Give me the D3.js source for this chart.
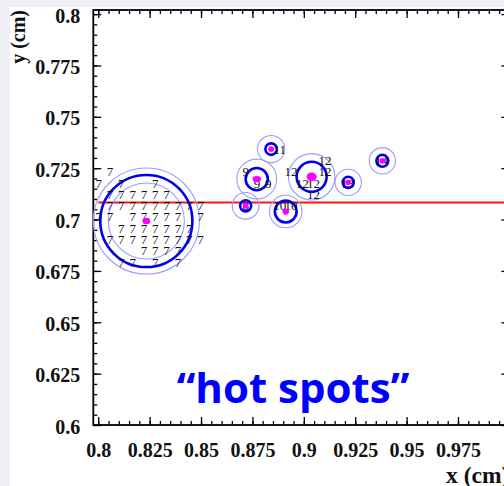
<!DOCTYPE html>
<html><head><meta charset="utf-8">
<script src="https://cdn.jsdelivr.net/npm/d3@7"></script>
<style>
html,body{margin:0;padding:0;background:#eef0f6;overflow:hidden}
svg{display:block}
</style></head><body>
<svg id="chart" width="504" height="486"></svg>
<script>
// ---- data -------------------------------------------------------------
const pitch = 0.0055;                 // sensor pixel pitch (cm)

// axis ticks
const xTickValues = [0.8, 0.825, 0.85, 0.875, 0.9, 0.925, 0.95, 0.975];
const xTickLabels = ["0.8", "0.825", "0.85", "0.875", "0.9", "0.925", "0.95", "0.975"];
const yTickValues = [0.6, 0.625, 0.65, 0.675, 0.7, 0.725, 0.75, 0.775, 0.8];
const yTickLabels = ["0.6", "0.625", "0.65", "0.675", "0.7", "0.725", "0.75", "0.775", "0.8"];

// fired pixels: column, row and cluster number
const hitCols = [
  146,
  145, 147, 150,
  146, 147, 148, 149, 150, 151,
  146, 147, 148, 149, 150, 151, 152, 153, 154,
  145, 146, 148, 149, 150, 151, 152, 154,
  147, 148, 149, 150, 151, 152, 153,
  146, 147, 148, 149, 150, 151, 152, 153, 154,
  149, 150, 151, 152,
  147, 148, 150, 152,
  158,
  158, 159, 160,
  161, 162,
  161,
  162, 163, 164, 164, 165, 165,
  167,
  170
];
const hitRows = [
  131,
  130, 130, 130,
  129, 129, 129, 129, 129, 129,
  128, 128, 128, 128, 128, 128, 128, 128, 128,
  127, 127, 127, 127, 127, 127, 127, 127,
  126, 126, 126, 126, 126, 126, 126,
  125, 125, 125, 125, 125, 125, 125, 125, 125,
  124, 124, 124, 124,
  123, 123, 123, 123,
  128,
  131, 130, 130,
  128, 128,
  133,
  131, 130, 130, 129, 132, 131,
  130,
  132
];
const hitIds = [
  7,
  7, 7, 7,
  7, 7, 7, 7, 7, 7,
  7, 7, 7, 7, 7, 7, 7, 7, 7,
  7, 7, 7, 7, 7, 7, 7, 7,
  7, 7, 7, 7, 7, 7, 7,
  7, 7, 7, 7, 7, 7, 7, 7, 7,
  7, 7, 7, 7,
  7, 7, 7, 7,
  8,
  9, 9, 9,
  10, 10,
  11,
  12, 12, 12, 12, 12, 12,
  13,
  14
];

// reconstructed clusters (cm)
const clusterIds    = [7, 8, 9, 10, 11, 12, 13, 14];
const clusterX      = [0.8234, 0.8717, 0.8771, 0.8912, 0.8841, 0.9038, 0.9216, 0.9382];
const clusterY      = [0.6993, 0.7067, 0.7197, 0.7039, 0.7343, 0.7208, 0.7181, 0.7286];
const clusterRadius = [0.0224, 0.0027, 0.0054, 0.0053, 0.0028, 0.0073, 0.0027, 0.0029];
const haloRadius    = [0.0258, 0.0065, 0.0097, 0.0079, 0.0066, 0.0113, 0.0064, 0.0064];
const innerRadius   = [0.0185, 0, 0, 0, 0, 0, 0, 0];
const centerRx      = [0.0019, 0.0014, 0.0021, 0.0016, 0.0014, 0.0025, 0.0014, 0.0014];
const centerRy      = [0.0016, 0.0014, 0.0015, 0.0015, 0.0014, 0.0021, 0.0014, 0.0014];

// beam line
const beamY = 0.7083;
const beamX0 = 0.8;

// ---- layout -----------------------------------------------------------
const svg = d3.select("#chart");
const frame = {left: 93.3, right: 509.4, top: 10, bottom: 425};

const x = d3.scaleLinear().domain([0.7976, 1.0]).range([frame.left, frame.right]);
const y = d3.scaleLinear().domain([0.6, 0.802]).range([frame.bottom, frame.top]);
const rpx = v => x(v) - x(0);

// pad background
svg.append("rect").attr("x", 10).attr("y", 7).attr("width", 494).attr("height", 479).attr("fill", "#ffffff");

const minorX = d3.range(0, 41).map(i => 0.8 + i * 0.005);
const minorY = d3.range(0, 41).map(i => 0.6 + i * 0.005);

const serif = "'Liberation Serif','Times New Roman',serif";

function styleAxis(g) {
  g.select(".domain").remove();
  g.selectAll(".tick line").attr("stroke", "#000").attr("stroke-width", 1.3);
  g.selectAll("text").attr("font-family", serif).attr("font-weight", "bold")
    .attr("font-size", 20).attr("fill", "#111");
}

// bottom
svg.append("g").attr("transform", `translate(0,${frame.bottom})`)
  .call(d3.axisBottom(x).tickValues(minorX).tickSize(-4).tickFormat(""))
  .call(styleAxis);
svg.append("g").attr("transform", `translate(0,${frame.bottom})`)
  .call(d3.axisBottom(x).tickValues(xTickValues).tickSize(-8).tickPadding(18)
    .tickFormat((d, i) => xTickLabels[i]))
  .call(styleAxis);
// top
svg.append("g").attr("transform", `translate(0,${frame.top})`)
  .call(d3.axisTop(x).tickValues(minorX).tickSize(-4).tickFormat(""))
  .call(styleAxis);
svg.append("g").attr("transform", `translate(0,${frame.top})`)
  .call(d3.axisTop(x).tickValues(xTickValues.concat([1.0])).tickSize(-8).tickFormat(""))
  .call(styleAxis);
// left
svg.append("g").attr("transform", `translate(${frame.left},0)`)
  .call(d3.axisLeft(y).tickValues(minorY).tickSize(-4).tickFormat(""))
  .call(styleAxis);
const yAx = svg.append("g").attr("transform", `translate(${frame.left},0)`)
  .call(d3.axisLeft(y).tickValues(yTickValues).tickSize(-8).tickPadding(13)
    .tickFormat((d, i) => yTickLabels[i]))
  .call(styleAxis);
yAx.selectAll("text").attr("dy", "0.4em");
// right
svg.append("g").attr("transform", `translate(${frame.right},0)`)
  .call(d3.axisRight(y).tickValues(minorY).tickSize(-4).tickFormat(""))
  .call(styleAxis);
svg.append("g").attr("transform", `translate(${frame.right},0)`)
  .call(d3.axisRight(y).tickValues(yTickValues).tickSize(-8).tickFormat(""))
  .call(styleAxis);

// frame
svg.append("rect")
  .attr("x", frame.left).attr("y", frame.top)
  .attr("width", frame.right - frame.left).attr("height", frame.bottom - frame.top)
  .attr("fill", "none").attr("stroke", "#000").attr("stroke-width", 1.8);

// axis titles
svg.append("text")
  .attr("transform", `translate(25,10) rotate(-90)`)
  .attr("text-anchor", "end")
  .attr("font-family", serif).attr("font-weight", "bold").attr("font-size", 20)
  .attr("fill", "#111").text("y (cm)");
svg.append("text")
  .attr("x", frame.right).attr("y", 483)
  .attr("text-anchor", "end")
  .attr("font-family", serif).attr("font-weight", "bold").attr("font-size", 23.5)
  .attr("fill", "#111").text("x (cm)");

// ---- marks ------------------------------------------------------------
const plot = svg.append("g");
const clusters = clusterIds.map((id, i) => ({id, i}));

// beam line
plot.append("line")
  .attr("x1", x(beamX0)).attr("x2", x(1.0))
  .attr("y1", y(beamY)).attr("y2", y(beamY))
  .attr("stroke", "#ff1414").attr("stroke-width", 2);

// halo rings
plot.selectAll("circle.halo").data(clusters).join("circle")
  .attr("class", "halo")
  .attr("cx", d => x(clusterX[d.i])).attr("cy", d => y(clusterY[d.i]))
  .attr("r", d => rpx(haloRadius[d.i]))
  .attr("fill", "none").attr("stroke", "#9c9cff").attr("stroke-width", 1.1);
plot.selectAll("circle.inner").data(clusters.filter(d => innerRadius[d.i] > 0)).join("circle")
  .attr("class", "inner")
  .attr("cx", d => x(clusterX[d.i])).attr("cy", d => y(clusterY[d.i]))
  .attr("r", d => rpx(innerRadius[d.i]))
  .attr("fill", "none").attr("stroke", "#9c9cff").attr("stroke-width", 1.1);
// cluster size
plot.selectAll("circle.size").data(clusters).join("circle")
  .attr("class", "size")
  .attr("cx", d => x(clusterX[d.i])).attr("cy", d => y(clusterY[d.i]))
  .attr("r", d => rpx(clusterRadius[d.i]))
  .attr("fill", "none").attr("stroke", "#0000f0").attr("stroke-width", 2.6);

// pixel contents
plot.selectAll("text.hit").data(hitIds.map((id, k) => ({id, k}))).join("text")
  .attr("class", "hit")
  .attr("x", d => x((hitCols[d.k] + 0.5) * pitch))
  .attr("y", d => y((hitRows[d.k] + 0.5) * pitch))
  .attr("text-anchor", "middle").attr("dominant-baseline", "central")
  .attr("font-family", serif).attr("font-size", 13).attr("fill", "#111")
  .text(d => d.id);

// cluster centres
plot.selectAll("ellipse.centre").data(clusters).join("ellipse")
  .attr("class", "centre")
  .attr("cx", d => x(clusterX[d.i])).attr("cy", d => y(clusterY[d.i]))
  .attr("rx", d => rpx(centerRx[d.i])).attr("ry", d => rpx(centerRy[d.i]))
  .attr("fill", "#ff00ff");

// annotation
svg.append("text")
  .attr("x", 293).attr("y", 403)
  .attr("text-anchor", "middle")
  .attr("font-family", "'Open Sans',sans-serif").attr("font-weight", "bold")
  .attr("font-size", 42).attr("fill", "#0000ff")
  .text("\u201Chot spots\u201D");
</script>
</body></html>
